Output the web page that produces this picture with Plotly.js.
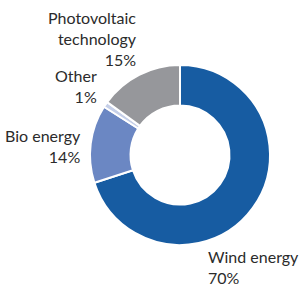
<!DOCTYPE html>
<html><head><meta charset="utf-8">
<script src="https://cdn.plot.ly/plotly-3.0.1.min.js"></script>
<style>html,body{margin:0;padding:0;background:#fff}</style>
</head><body><div id="chart" style="width:302px;height:289px"></div>
<script>
const categories = ["Wind energy", "Bio energy", "Other", "Photovoltaic\ntechnology"];
const values = [70, 14, 1, 15];
const colors = ["#175ca2", "#6b87c3", "#c5cfe8", "#96979b"];

// label placement (paper px) — styling only
const labelPos = [
  {x: 206, y: 267, xanchor: "left", align: "left"},
  {x: 83, y: 146, xanchor: "right", align: "right"},
  {x: 99, y: 86, xanchor: "right", align: "right"},
  {x: 139, y: 38, xanchor: "right", align: "right"}
];
const W = 302, H = 289;
const annotations = categories.map((c, i) => ({
  xref: "paper", yref: "paper",
  x: labelPos[i].x / W, y: 1 - labelPos[i].y / H,
  xanchor: labelPos[i].xanchor, yanchor: "middle", align: labelPos[i].align,
  showarrow: false,
  text: c.replace("\n", "<br>") + "<br>" + values[i] + "%",
  font: {family: "Lato, sans-serif", size: 16, color: "#2b2b2b"}
}));

Plotly.newPlot("chart", [{
  type: "pie",
  labels: categories.map(c => c.replace("\n", " ")),
  values: values,
  hole: 0.55,
  sort: false,
  direction: "clockwise",
  rotation: 0,
  textinfo: "none",
  marker: {colors: colors, line: {color: "#ffffff", width: 2}},
  domain: {x: [90 / W, 270 / W], y: [1 - 245 / H, 1 - 65 / H]}
}], {
  width: W, height: H,
  margin: {l: 0, r: 0, t: 0, b: 0},
  showlegend: false,
  paper_bgcolor: "#ffffff",
  annotations: annotations
}, {displayModeBar: false, staticPlot: true});
</script></body></html>
